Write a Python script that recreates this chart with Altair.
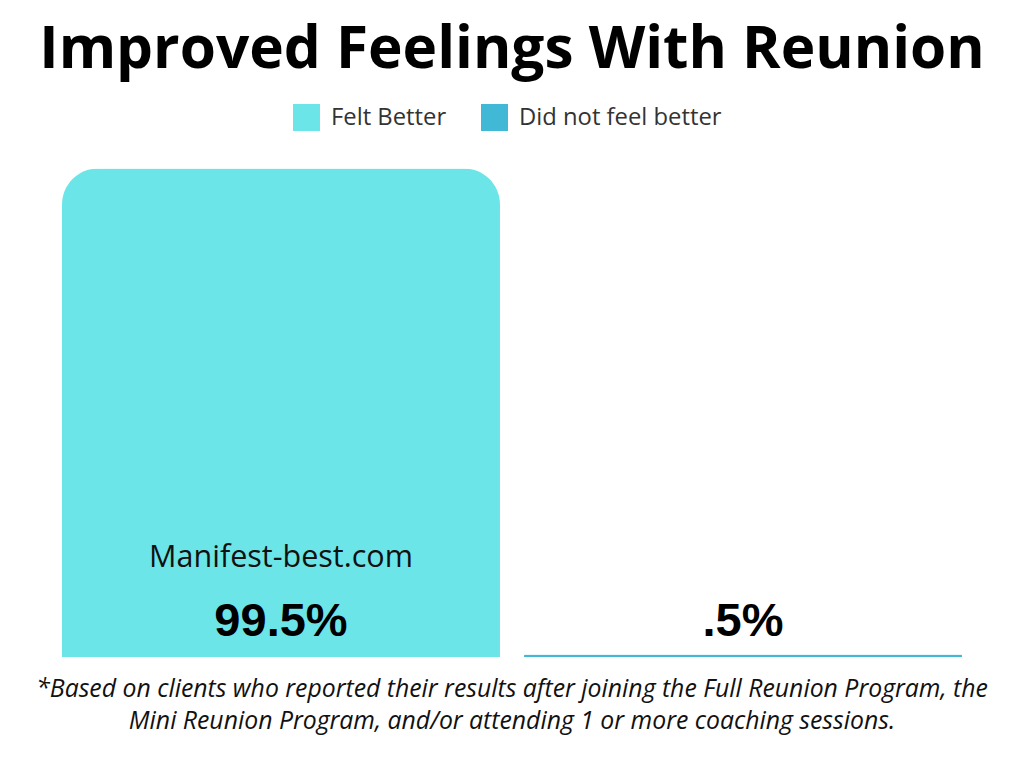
import altair as alt
import pandas as pd

categories = ["Felt Better", "Did not feel better"]
values = [99.5, 0.5]
labels = ["99.5%", ".5%"]
colors = ["#6CE5E8", "#41B8D5"]
watermark = "Manifest-best.com"
title_text = "Improved Feelings With Reunion"
footnote_line1 = "*Based on clients who reported their results after joining the Full Reunion Program, the"
footnote_line2 = "Mini Reunion Program, and/or attending 1 or more coaching sessions."

df = pd.DataFrame({"category": categories, "value": values, "label": labels})
wm = pd.DataFrame({"category": [categories[0]], "text": [watermark]})

xenc = alt.X("category:N", sort=categories, axis=None,
             scale=alt.Scale(paddingInner=0.052, paddingOuter=0))
yscale = alt.Scale(domain=[0, 100], nice=False, zero=True)

bars = alt.Chart(df).mark_bar(cornerRadiusTopLeft=36, cornerRadiusTopRight=36).encode(
    x=xenc,
    y=alt.Y("value:Q", axis=None, scale=yscale),
    color=alt.Color("category:N", sort=categories,
                    scale=alt.Scale(domain=categories, range=colors),
                    legend=alt.Legend(title=None, orient="none", direction="horizontal",
                                      legendX=231, legendY=-62, symbolType="square",
                                      symbolSize=729, symbolStrokeWidth=0,
                                      labelFontSize=23.8, labelFont="Open Sans",
                                      labelColor="#333333", columnPadding=34,
                                      labelOffset=11, labelLimit=400)),
)

vals = alt.Chart(df).mark_text(font="Liberation Sans", fontWeight="bold", fontSize=47,
                               baseline="middle", dy=-35, color="#000000").encode(
    x=xenc,
    y=alt.datum(0),
    text="label:N",
)

wmt = alt.Chart(wm).mark_text(font="Open Sans", fontSize=30.5, baseline="middle",
                              dy=-99, color="#111111").encode(
    x=xenc,
    y=alt.datum(0),
    text="text:N",
)

fn1 = alt.Chart(pd.DataFrame({"line": [footnote_line1]})).mark_text(
    font="Open Sans", fontStyle="italic", fontSize=24.8,
    baseline="middle", color="#111111").encode(
    x=alt.value(450), y=alt.value(524), text="line:N")
fn2 = alt.Chart(pd.DataFrame({"line": [footnote_line2]})).mark_text(
    font="Open Sans", fontStyle="italic", fontSize=24.8,
    baseline="middle", color="#111111").encode(
    x=alt.value(450), y=alt.value(556), text="line:N")

chart = alt.layer(bars, vals, wmt, fn1, fn2).properties(
    width=900,
    height=491,
    autosize=alt.AutoSizeParams(type="none"),
    padding={"left": 54, "top": 158, "right": 54, "bottom": 103},
    title=alt.Title(title_text, font="Open Sans", fontSize=58.5, fontWeight="bold",
                    color="#000000", anchor="middle", baseline="alphabetic",
                    offset=0, dy=22),
).configure_view(stroke=None)

chart.save("out.html", embed_options={"renderer": "svg", "actions": False})
